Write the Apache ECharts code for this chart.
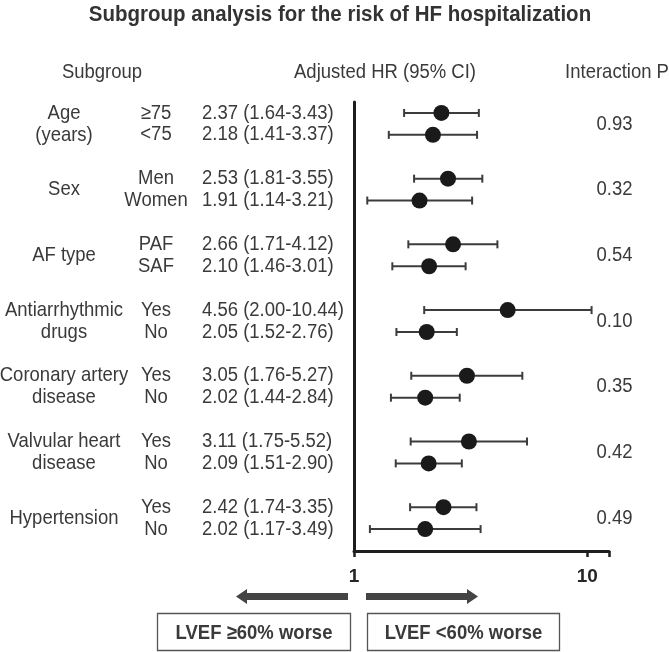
<!DOCTYPE html>
<html>
<head>
<meta charset="utf-8">
<script src="https://cdn.jsdelivr.net/npm/echarts@6/dist/echarts.min.js"></script>
<style>
html,body{margin:0;padding:0;background:#fff;}
#chart{width:669px;height:652px;}
</style>
</head>
<body>
<div id="chart"></div>
<script>
// ---- data ----
const groupLabels = ['Age\n(years)', 'Sex', 'AF type', 'Antiarrhythmic\ndrugs', 'Coronary artery\ndisease', 'Valvular heart\ndisease', 'Hypertension'];
const subLabels = [['≥75', '<75'], ['Men', 'Women'], ['PAF', 'SAF'], ['Yes', 'No'], ['Yes', 'No'], ['Yes', 'No'], ['Yes', 'No']];
const hrValues = [[2.37, 2.18], [2.53, 1.91], [2.66, 2.10], [4.56, 2.05], [3.05, 2.02], [3.11, 2.09], [2.42, 2.02]];
const ciLower = [[1.64, 1.41], [1.81, 1.14], [1.71, 1.46], [2.00, 1.52], [1.76, 1.44], [1.75, 1.51], [1.74, 1.17]];
const ciUpper = [[3.43, 3.37], [3.55, 3.21], [4.12, 3.01], [10.44, 2.76], [5.27, 2.84], [5.52, 2.90], [3.35, 3.49]];
const interactionP = ['0.93', '0.32', '0.54', '0.10', '0.35', '0.42', '0.49'];
const xTickLabels = {1: '1', 10: '10'};
const headers = ['Subgroup', 'Adjusted HR (95% CI)', 'Interaction P'];
const titleText = 'Subgroup analysis for the risk of HF hospitalization';
const directionLabels = ['LVEF ≥60% worse', 'LVEF <60% worse'];

// ---- build rows ----
const FONT = '"Liberation Sans", Arial, sans-serif';
const TXT = '#3a3a3a';
const rows = [];
hrValues.forEach((pair, g) => {
  pair.forEach((hr, i) => {
    rows.push({ row: g * 3 + i, hr: hr, lo: ciLower[g][i], hi: ciUpper[g][i], sub: subLabels[g][i] });
  });
});
const pointData = rows.map(r => [r.hr, r.row]);
const ciData = rows.map(r => [r.lo, r.hi, r.row]);
const tableData = rows.map((r, k) => [1, r.row, k]);
const groupData = groupLabels.map((_, g) => [1, g * 3 + 0.5, g]);

const chart = echarts.init(document.getElementById('chart'), null, { renderer: 'canvas' });

function txt(x, y, text, opts, sy) {
  return {
    type: 'text',
    x: x, y: y, scaleY: sy || 1.1,
    style: Object.assign({
      text: text, fill: TXT, font: '18.5px ' + FONT,
      textAlign: 'center', textVerticalAlign: 'middle'
    }, opts || {})
  };
}

function arrowPoints(x0, x1, y, dir) {
  const sh = 3.6, hh = 7.5, hl = 11;
  if (dir < 0) {
    return [[x0, y], [x0 + hl, y - hh], [x0 + hl, y - sh], [x1, y - sh], [x1, y + sh], [x0 + hl, y + sh], [x0 + hl, y + hh]];
  }
  return [[x1, y], [x1 - hl, y - hh], [x1 - hl, y - sh], [x0, y - sh], [x0, y + sh], [x1 - hl, y + sh], [x1 - hl, y + hh]];
}

const option = {
  backgroundColor: '#fff',
  animation: false,
  grid: { left: 354, right: 60, top: 102, bottom: 101, containLabel: false },
  xAxis: {
    type: 'log', logBase: 10, min: 1, max: 12.4, position: 'bottom',
    axisLine: { show: true, onZero: false, lineStyle: { color: '#1e1e1e', width: 3 } },
    axisTick: { show: true, length: 6, lineStyle: { color: '#1e1e1e', width: 2.5 } },
    splitLine: { show: false },
    minorTick: { show: false },
    axisLabel: {
      margin: 16, color: '#262626', fontFamily: FONT, fontWeight: 'bold', fontSize: 19,
      formatter: v => xTickLabels[Math.round(v)] || ''
    }
  },
  yAxis: {
    type: 'value', min: -0.5, max: 20, inverse: true,
    axisLine: { show: true, onZero: false, lineStyle: { color: '#1e1e1e', width: 3 } },
    axisTick: { show: false }, axisLabel: { show: false }, splitLine: { show: false }
  },
  graphic: [
    txt(340, 15, titleText, { font: 'bold 20.5px ' + FONT, fill: '#333' }, 1.08),
    txt(102, 72.5, headers[0]),
    txt(385, 72.5, headers[1]),
    txt(617, 72.5, headers[2]),
    { type: 'polygon', shape: { points: arrowPoints(236, 348, 596.5, -1) }, style: { fill: '#444' } },
    { type: 'polygon', shape: { points: arrowPoints(366, 478, 596.5, 1) }, style: { fill: '#444' } },
    { type: 'rect', shape: { x: 157.5, y: 613.5, width: 193, height: 37 }, style: { fill: 'none', stroke: '#555', lineWidth: 1.3 } },
    { type: 'rect', shape: { x: 367.5, y: 613.5, width: 192, height: 37 }, style: { fill: 'none', stroke: '#555', lineWidth: 1.3 } },
    txt(254, 633, directionLabels[0], { font: 'bold 18.5px ' + FONT }),
    txt(463.5, 633, directionLabels[1], { font: 'bold 18.5px ' + FONT })
  ],
  series: [
    {
      type: 'custom', name: 'ci', clip: false, z: 2,
      data: ciData,
      renderItem: function (params, api) {
        const a = api.coord([api.value(0), api.value(2)]);
        const b = api.coord([api.value(1), api.value(2)]);
        const st = { stroke: '#3c3c3c', lineWidth: 2 };
        const c = 4;
        return {
          type: 'group', children: [
            { type: 'line', shape: { x1: a[0], y1: a[1], x2: b[0], y2: b[1] }, style: st },
            { type: 'line', shape: { x1: a[0], y1: a[1] - c, x2: a[0], y2: a[1] + c }, style: st },
            { type: 'line', shape: { x1: b[0], y1: b[1] - c, x2: b[0], y2: b[1] + c }, style: st }
          ]
        };
      }
    },
    {
      type: 'scatter', name: 'hr', z: 3,
      data: pointData, symbol: 'circle', symbolSize: 16,
      itemStyle: { color: '#1a1a1a', opacity: 1 }
    },
    {
      type: 'custom', name: 'table', clip: false, silent: true,
      data: tableData,
      renderItem: function (params, api) {
        const k = api.value(2);
        const r = rows[k];
        const y = api.coord([1, api.value(1)])[1];
        const label = r.hr.toFixed(2) + ' (' + r.lo.toFixed(2) + '-' + r.hi.toFixed(2) + ')';
        return {
          type: 'group', children: [
            txt(156, y, r.sub),
            txt(202, y, label, { textAlign: 'left' })
          ]
        };
      }
    },
    {
      type: 'custom', name: 'groups', clip: false, silent: true,
      data: groupData,
      renderItem: function (params, api) {
        const g = api.value(2);
        const y = api.coord([1, api.value(1)])[1];
        return {
          type: 'group', children: [
            txt(64, y, groupLabels[g], { lineHeight: 20 }),
            txt(614.5, y, interactionP[g])
          ]
        };
      }
    }
  ]
};
chart.setOption(option);
</script>
</body>
</html>
